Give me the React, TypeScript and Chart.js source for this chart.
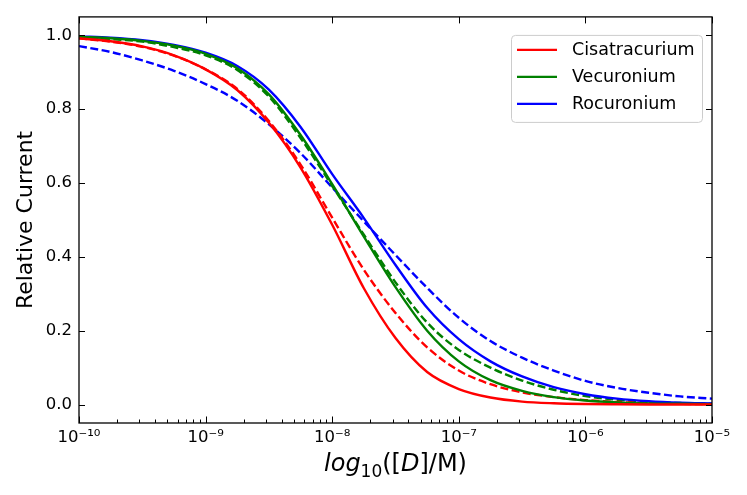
import React, { useEffect, useRef } from 'react';
import { Chart, registerables } from 'chart.js';

Chart.register(...registerables);

// log10 of the concentration, read every quarter decade
const logDose = [-10, -9.75, -9.5, -9.25, -9, -8.75, -8.5, -8.25, -8, -7.75, -7.5, -7.25, -7, -6.75, -6.5, -6.25, -6, -5.75, -5.5, -5.25, -5];

const cisSolid = [0.992, 0.984, 0.97, 0.946, 0.908, 0.852, 0.763, 0.642, 0.487, 0.315, 0.18, 0.088, 0.042, 0.019, 0.008, 0.0035, 0.0015, 0.0007, 0.0003, 0.0001, 0.0001];
const cisDashed = [0.992, 0.983, 0.969, 0.945, 0.908, 0.855, 0.768, 0.65, 0.506, 0.365, 0.248, 0.155, 0.092, 0.055, 0.033, 0.02, 0.012, 0.007, 0.004, 0.002, 0.001];
const vecSolid = [0.996, 0.992, 0.985, 0.972, 0.95, 0.911, 0.84, 0.73, 0.597, 0.455, 0.318, 0.2, 0.117, 0.066, 0.037, 0.02, 0.011, 0.006, 0.003, 0.002, 0.001];
const vecDashed = [0.995, 0.99, 0.983, 0.968, 0.946, 0.906, 0.834, 0.722, 0.592, 0.46, 0.331, 0.222, 0.148, 0.1, 0.065, 0.04, 0.023, 0.013, 0.007, 0.004, 0.002];
const rocSolid = [0.997, 0.994, 0.987, 0.974, 0.953, 0.917, 0.853, 0.752, 0.624, 0.505, 0.378, 0.262, 0.177, 0.117, 0.076, 0.047, 0.028, 0.016, 0.009, 0.005, 0.003];
const rocDashed = [0.971, 0.955, 0.932, 0.904, 0.868, 0.823, 0.759, 0.681, 0.588, 0.496, 0.405, 0.316, 0.235, 0.172, 0.127, 0.092, 0.064, 0.045, 0.032, 0.022, 0.016];

const yTicks = [0, 0.2, 0.4, 0.6, 0.8, 1.0];
const xDecades = [-10, -9, -8, -7, -6, -5];
const xTickLabels = ['10⁻¹⁰', '10⁻⁹', '10⁻⁸', '10⁻⁷', '10⁻⁶', '10⁻⁵'];

const FONT = "'DejaVu Sans', sans-serif";
const RED = '#ff0000';
const GREEN = '#008000';
const BLUE = '#0000ff';
const DASH = [8, 3.5];

const isDecade = (v: number) => {
  const l = Math.log10(v);
  return Math.abs(l - Math.round(l)) < 1e-6;
};

const toPoints = (vals: number[]) => vals.map((y, i) => ({ x: Math.pow(10, logDose[i]), y }));

// inward ticks on all four sides plus the black frame
const frameTicks = {
  id: 'frameTicks',
  afterDraw(chart: any) {
    const { ctx, chartArea: a, scales } = chart;
    ctx.save();
    ctx.strokeStyle = '#000';
    ctx.lineWidth = 1;
    ctx.beginPath();
    scales.x.ticks.forEach((t: any) => {
      const px = Math.round(scales.x.getPixelForValue(t.value)) + 0.5;
      const major = isDecade(t.value);
      const len = major ? 6.5 : 3.5;
      ctx.moveTo(px, a.bottom);
      ctx.lineTo(px, a.bottom - len);
      if (major) {
        ctx.moveTo(px, a.top);
        ctx.lineTo(px, a.top + len);
      }
    });
    scales.y.ticks.forEach((t: any) => {
      const py = Math.round(scales.y.getPixelForValue(t.value)) + 0.5;
      ctx.moveTo(a.left, py);
      ctx.lineTo(a.left + 6, py);
      ctx.moveTo(a.right, py);
      ctx.lineTo(a.right - 6, py);
    });
    ctx.stroke();
    ctx.lineWidth = 1.3;
    ctx.strokeRect(a.left, a.top, a.right - a.left, a.bottom - a.top);
    ctx.restore();
  },
};

// axis titles (x title has italic parts and a subscript)
const axisTitles = {
  id: 'axisTitles',
  afterDraw(chart: any) {
    const { ctx, chartArea: a } = chart;
    ctx.save();
    ctx.fillStyle = '#000';
    ctx.textBaseline = 'alphabetic';

    ctx.save();
    ctx.translate(32, (a.top + a.bottom) / 2);
    ctx.rotate(-Math.PI / 2);
    ctx.textAlign = 'center';
    ctx.font = `22px ${FONT}`;
    ctx.fillText('Relative Current', 0, 0);
    ctx.restore();

    const parts = [
      { t: 'log', f: `italic 24px ${FONT}`, dy: 0 },
      { t: '10', f: `17px ${FONT}`, dy: 6 },
      { t: '([', f: `24px ${FONT}`, dy: 0 },
      { t: 'D', f: `italic 24px ${FONT}`, dy: 0 },
      { t: ']/M)', f: `24px ${FONT}`, dy: 0 },
    ];
    let total = 0;
    const widths = parts.map((p) => {
      ctx.font = p.f;
      const w = ctx.measureText(p.t).width;
      total += w;
      return w;
    });
    let x = (a.left + a.right) / 2 - total / 2;
    ctx.textAlign = 'left';
    parts.forEach((p, i) => {
      ctx.font = p.f;
      ctx.fillText(p.t, x, 471 + p.dy);
      x += widths[i];
    });
    ctx.restore();
  },
};

// legend box in the upper right of the plot, solid curves only
const boxLegend = {
  id: 'boxLegend',
  afterDraw(chart: any) {
    const { ctx, chartArea: a } = chart;
    const items = chart.data.datasets.filter((d: any) => !d.borderDash);
    const right = a.right - 10;
    const left = right - 191;
    const top = a.top + 18;
    const h = 87;
    ctx.save();
    ctx.beginPath();
    ctx.roundRect(left + 0.5, top + 0.5, right - left, h, 4);
    ctx.fillStyle = 'rgba(255,255,255,0.8)';
    ctx.fill();
    ctx.strokeStyle = '#cccccc';
    ctx.lineWidth = 1;
    ctx.stroke();
    ctx.font = `17.5px ${FONT}`;
    ctx.textBaseline = 'middle';
    ctx.textAlign = 'left';
    items.forEach((d: any, i: number) => {
      const y = top + 15 + i * 27;
      ctx.strokeStyle = d.borderColor;
      ctx.lineWidth = 2.4;
      ctx.beginPath();
      ctx.moveTo(left + 6, y);
      ctx.lineTo(left + 46, y);
      ctx.stroke();
      ctx.fillStyle = '#000';
      ctx.fillText(d.label, left + 61, y + 1);
    });
    ctx.restore();
  },
};

const line = (label: string, vals: number[], color: string, dashed: boolean) => ({
  label,
  data: toPoints(vals),
  borderColor: color,
  backgroundColor: color,
  borderWidth: 2.4,
  borderDash: dashed ? DASH : undefined,
  pointRadius: 0,
  fill: false,
  cubicInterpolationMode: 'monotone' as const,
});

const App: React.FC = () => {
  const canvasRef = useRef<HTMLCanvasElement | null>(null);

  useEffect(() => {
    document.body.style.margin = '0';
    if (!canvasRef.current) return;
    const chart = new Chart(canvasRef.current, {
      type: 'line',
      data: {
        datasets: [
          line('Cisatracurium', cisSolid, RED, false),
          line('Vecuronium', vecSolid, GREEN, false),
          line('Rocuronium', rocSolid, BLUE, false),
          line('Cisatracurium dashed', cisDashed, RED, true),
          line('Vecuronium dashed', vecDashed, GREEN, true),
          line('Rocuronium dashed', rocDashed, BLUE, true),
        ],
      },
      options: {
        animation: false,
        responsive: true,
        maintainAspectRatio: false,
        events: [],
        layout: { padding: { top: 13, right: 35, left: 0, bottom: 0 } },
        plugins: { legend: { display: false }, tooltip: { enabled: false } },
        scales: {
          x: {
            type: 'logarithmic',
            min: 1e-10,
            max: 1e-5,
            grid: { display: false, drawTicks: false },
            border: { display: false },
            afterBuildTicks: (scale: any) => {
              const ticks: { value: number }[] = [];
              for (let k = xDecades[0]; k < xDecades[xDecades.length - 1]; k++) {
                for (let m = 1; m < 10; m++) ticks.push({ value: m * Math.pow(10, k) });
              }
              ticks.push({ value: Math.pow(10, xDecades[xDecades.length - 1]) });
              scale.ticks = ticks;
            },
            afterFit: (scale: any) => {
              scale.height = 72;
            },
            ticks: {
              autoSkip: false,
              maxRotation: 0,
              padding: 5,
              color: '#000',
              font: { family: FONT, size: 16.5 },
              callback: (value: any) => {
                const v = Number(value);
                if (!isDecade(v)) return '';
                const idx = xDecades.indexOf(Math.round(Math.log10(v)));
                return idx >= 0 ? xTickLabels[idx] : '';
              },
            },
          },
          y: {
            type: 'linear',
            min: -0.05,
            max: 1.05,
            grid: { display: false, drawTicks: false },
            border: { display: false },
            afterBuildTicks: (scale: any) => {
              scale.ticks = yTicks.map((value) => ({ value }));
            },
            afterFit: (scale: any) => {
              scale.width = 79;
            },
            ticks: {
              padding: 7,
              color: '#000',
              font: { family: FONT, size: 16.5 },
              callback: (value: any) => Number(value).toFixed(1),
            },
          },
        },
      },
      plugins: [frameTicks, axisTitles, boxLegend],
    });
    return () => chart.destroy();
  }, []);

  return (
    <div style={{ position: 'relative', width: 747, height: 495, background: '#fff' }}>
      <canvas ref={canvasRef} />
    </div>
  );
};

export default App;
